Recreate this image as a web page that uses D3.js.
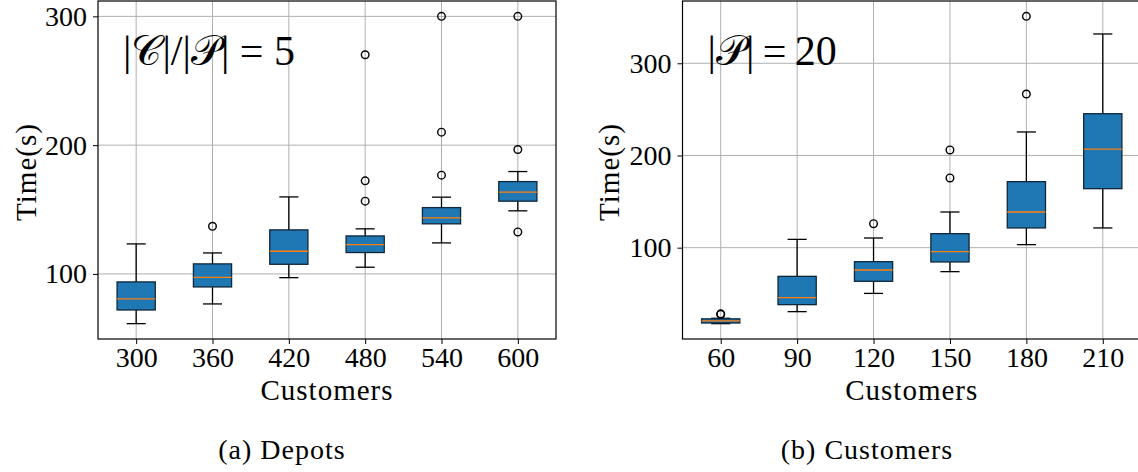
<!DOCTYPE html>
<html>
<head>
<meta charset="utf-8">
<script src="https://cdn.jsdelivr.net/npm/d3@7"></script>
<style>
  body { margin: 0; background: #fff; }
  svg text { font-family: "Liberation Serif", serif; fill: #000; }
</style>
</head>
<body>
<div id="graph"></div>
<script>
// (a) Depots  |C|/|P| = 5
const depotCustomers = ["300", "360", "420", "480", "540", "600"];
const depotWhiskerLo = [61.4, 76.7, 97.1, 105.2, 124.1, 149.0];
const depotQ1        = [72.0, 89.9, 107.5, 116.6, 138.9, 156.5];
const depotMedian    = [80.6, 97.4, 117.6, 122.8, 143.5, 163.5];
const depotQ3        = [93.8, 107.8, 134.2, 129.5, 151.5, 171.7];
const depotWhiskerHi = [123.3, 116.3, 159.8, 135.0, 159.6, 179.5];
const depotOutliers  = [[], [137], [], [270.2, 172.3, 156.5], [300, 210.1, 176.7], [300, 196.6, 132.6]];
const depotTicks     = [100, 200, 300];

// (b) Customers  |P| = 20
const custCustomers = ["60", "90", "120", "150", "180", "210"];
const custWhiskerLo = [17.6, 30.6, 50.4, 74.0, 103.3, 121.4];
const custQ1        = [18.3, 38.2, 63.5, 84.5, 121.4, 164.0];
const custMedian    = [20.5, 45.8, 75.8, 95.7, 138.7, 207.0];
const custQ3        = [22.8, 68.9, 84.8, 115.2, 171.6, 245.3];
const custWhiskerHi = [23.4, 109.0, 110.5, 138.7, 225.5, 331.8];
const custOutliers  = [[28.2, 27.6], [], [126], [206, 175.6], [350.9, 266.7], []];
const custTicks     = [100, 200, 300];

// annotation pieces: [text, is calligraphic]
const depotNote = [["|", false], ["\u{1D49E}", true], ["|/|", false], ["\u{1D4AB}", true], ["| = 5", false]];
const custNote  = [["|", false], ["\u{1D4AB}", true], ["|\u2009=\u200920", false]];

const svg = d3.select("#graph").append("svg")
    .attr("width", 1138)
    .attr("height", 472);

drawPanel({
    left: 98, right: 556, top: 1, bottom: 339,
    cats: depotCustomers, lo: depotWhiskerLo, q1: depotQ1, med: depotMedian,
    q3: depotQ3, hi: depotWhiskerHi, out: depotOutliers, ticks: depotTicks,
    note: depotNote, caption: "(a) Depots", captionX: 282,
    ylabelX: 26
});

drawPanel({
    left: 682.5, right: 1141, top: 1, bottom: 339,
    cats: custCustomers, lo: custWhiskerLo, q1: custQ1, med: custMedian,
    q3: custQ3, hi: custWhiskerHi, out: custOutliers, ticks: custTicks,
    note: custNote, caption: "(b) Customers", captionX: 867,
    ylabelX: 609
});

function drawPanel(p) {
    const g = svg.append("g");
    const n = p.cats.length;

    // matplotlib-like 5% margin around all data
    const all = p.lo.concat(p.hi, p.out.flat());
    const lo = d3.min(all), hi = d3.max(all);
    const pad = (hi - lo) * 0.05;

    const x = d3.scaleLinear().domain([0.5, n + 0.5]).range([p.left, p.right]);
    const y = d3.scaleLinear().domain([lo - pad, hi + pad]).range([p.bottom, p.top]);
    const pos = d3.range(1, n + 1);

    // grid
    g.selectAll(".gx").data(pos).join("line")
        .attr("x1", d => x(d)).attr("x2", d => x(d))
        .attr("y1", p.top).attr("y2", p.bottom)
        .attr("stroke", "#b0b0b0").attr("stroke-width", 1);
    g.selectAll(".gy").data(p.ticks).join("line")
        .attr("x1", p.left).attr("x2", p.right)
        .attr("y1", d => y(d)).attr("y2", d => y(d))
        .attr("stroke", "#b0b0b0").attr("stroke-width", 1);

    // axes
    const ax = d3.axisBottom(x).tickValues(pos).tickFormat(d => p.cats[d - 1])
        .tickSize(5).tickPadding(3).tickSizeOuter(0);
    const ay = d3.axisLeft(y).tickValues(p.ticks).tickSize(5).tickPadding(6).tickSizeOuter(0);
    const gx = g.append("g").attr("transform", `translate(0,${p.bottom})`).call(ax);
    const gy = g.append("g").attr("transform", `translate(${p.left},0)`).call(ay);
    [gx, gy].forEach(a => {
        a.select(".domain").remove();
        a.selectAll("line").attr("stroke", "#000");
        a.selectAll("text").style("font-family", "Liberation Serif, serif")
            .style("font-size", "28px").attr("fill", "#000");
    });

    const bw = x(1.25) - x(1);   // half box width (0.5 wide)
    const cw = bw / 2;           // half cap width

    const box = g.selectAll(".box").data(pos).join("g");
    // whiskers
    box.append("line")
        .attr("x1", d => x(d)).attr("x2", d => x(d))
        .attr("y1", d => y(p.lo[d - 1])).attr("y2", d => y(p.q1[d - 1]))
        .attr("stroke", "#000").attr("stroke-width", 1.3);
    box.append("line")
        .attr("x1", d => x(d)).attr("x2", d => x(d))
        .attr("y1", d => y(p.hi[d - 1])).attr("y2", d => y(p.q3[d - 1]))
        .attr("stroke", "#000").attr("stroke-width", 1.3);
    // caps
    box.append("line")
        .attr("x1", d => x(d) - cw).attr("x2", d => x(d) + cw)
        .attr("y1", d => y(p.lo[d - 1])).attr("y2", d => y(p.lo[d - 1]))
        .attr("stroke", "#000").attr("stroke-width", 1.3);
    box.append("line")
        .attr("x1", d => x(d) - cw).attr("x2", d => x(d) + cw)
        .attr("y1", d => y(p.hi[d - 1])).attr("y2", d => y(p.hi[d - 1]))
        .attr("stroke", "#000").attr("stroke-width", 1.3);
    // box
    box.append("rect")
        .attr("x", d => x(d) - bw).attr("width", bw * 2)
        .attr("y", d => y(p.q3[d - 1]))
        .attr("height", d => y(p.q1[d - 1]) - y(p.q3[d - 1]))
        .attr("fill", "#1f77b4").attr("stroke", "#10263a").attr("stroke-width", 1.3);
    // median
    box.append("line")
        .attr("x1", d => x(d) - bw).attr("x2", d => x(d) + bw)
        .attr("y1", d => y(p.med[d - 1])).attr("y2", d => y(p.med[d - 1]))
        .attr("stroke", "#ff7f0e").attr("stroke-width", 1.3);
    // fliers
    box.each(function(d) {
        d3.select(this).selectAll("circle").data(p.out[d - 1]).join("circle")
            .attr("cx", x(d)).attr("cy", v => y(v)).attr("r", 3.8)
            .attr("fill", "none").attr("stroke", "#000").attr("stroke-width", 1.4);
    });

    // frame
    g.append("rect")
        .attr("x", p.left).attr("y", p.top)
        .attr("width", p.right - p.left).attr("height", p.bottom - p.top)
        .attr("fill", "none").attr("stroke", "#000").attr("stroke-width", 1.2);

    // labels
    g.append("text")
        .attr("x", (p.left + p.right) / 2).attr("y", 400)
        .attr("text-anchor", "middle")
        .style("font-size", "29px").style("letter-spacing", "1px")
        .text("Customers");
    g.append("text")
        .attr("transform", `translate(${p.ylabelX},172) rotate(-90)`)
        .attr("text-anchor", "middle").attr("dy", "0.35em")
        .style("font-size", "29px").style("letter-spacing", "1px")
        .text("Time(s)");
    g.append("text")
        .attr("x", p.left + 25).attr("y", 65)
        .style("font-size", "42px")
        .selectAll("tspan").data(p.note).join("tspan")
        .style("font-family", d => d[1] ? "serif" : "Liberation Serif, serif")
        .style("font-weight", "normal")
        .text(d => d[0]);
    g.append("text")
        .attr("x", p.captionX).attr("y", 459)
        .attr("text-anchor", "middle")
        .style("font-size", "28px").style("letter-spacing", "1px")
        .text(p.caption);
}
</script>
</body>
</html>
